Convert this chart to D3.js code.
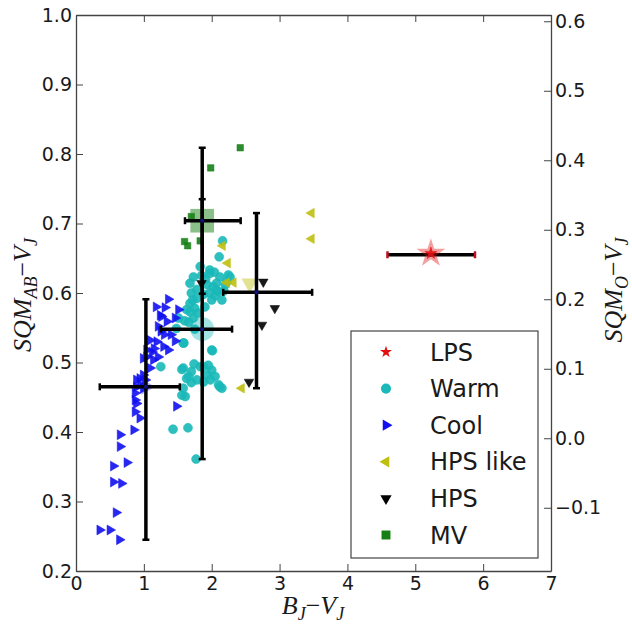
<!DOCTYPE html>
<html>
<head>
<meta charset="utf-8">
<script src="https://cdn.jsdelivr.net/npm/d3@7"></script>
<style>
  body { margin: 0; background: #fff; }
  svg text { font-family: "DejaVu Sans", sans-serif; }
</style>
</head>
<body>
<svg id="chart" width="632" height="631"></svg>
<script>
// points, [B_J - V_J, SQM_AB - V_J]
const lpsPts = [[5.23, 0.657]];

const warmPts = [
  [2.16, 0.675], [2.11, 0.652], [1.73, 0.623], [1.97, 0.628], [2.12, 0.623],
  [2.245, 0.626], [2.02, 0.609], [2.10, 0.602], [1.68, 0.614], [1.70, 0.600],
  [1.78, 0.592], [1.93, 0.612], [1.97, 0.600], [2.07, 0.614], [2.00, 0.590],
  [1.68, 0.585], [1.75, 0.578], [1.68, 0.573], [1.80, 0.571], [1.73, 0.564],
  [1.90, 0.580], [1.63, 0.576], [1.51, 0.564], [1.48, 0.549], [1.58, 0.528],
  [2.00, 0.518], [1.83, 0.638], [1.97, 0.633], [2.27, 0.623], [2.15, 0.590],
  [2.07, 0.604], [1.85, 0.625], [2.20, 0.612], [1.78, 0.605], [1.60, 0.560],
  [2.04, 0.630], [1.91, 0.620], [2.18, 0.603], [1.72, 0.590], [1.88, 0.598],
  [2.23, 0.617], [2.05, 0.596], [1.66, 0.558], [1.75, 0.548],
  [1.25, 0.494], [1.58, 0.492], [1.88, 0.494], [2.00, 0.489], [1.56, 0.490],
  [1.70, 0.487], [1.83, 0.494], [1.95, 0.496], [1.63, 0.477], [1.78, 0.475],
  [1.93, 0.482], [2.05, 0.480], [2.10, 0.468], [1.58, 0.463], [1.61, 0.451],
  [1.88, 0.472], [2.15, 0.463], [1.70, 0.471], [2.12, 0.465], [1.56, 0.453],
  [1.66, 0.480], [1.98, 0.475], [1.74, 0.498],
  [1.43, 0.404], [1.65, 0.406], [1.77, 0.361], [2.01, 0.517], [1.59, 0.528]
];

const coolPts = [
  [1.18, 0.580], [1.36, 0.591], [1.24, 0.568], [1.21, 0.552], [1.34, 0.559],
  [1.46, 0.564], [1.51, 0.576], [1.31, 0.579], [1.26, 0.566], [1.09, 0.532],
  [1.19, 0.530], [1.29, 0.523], [1.36, 0.518], [1.46, 0.531], [1.25, 0.545],
  [1.30, 0.540], [1.15, 0.520], [1.40, 0.540], [0.99, 0.506], [1.14, 0.504],
  [1.21, 0.508], [1.04, 0.518], [1.04, 0.508], [1.09, 0.492], [1.12, 0.515],
  [1.02, 0.475], [0.94, 0.477], [0.89, 0.465], [0.99, 0.463], [0.87, 0.456],
  [0.99, 0.482], [0.89, 0.475], [0.95, 0.468], [1.48, 0.437], [0.89, 0.441],
  [0.87, 0.429], [0.94, 0.420], [0.85, 0.403], [0.87, 0.446], [0.65, 0.396],
  [0.65, 0.379], [0.55, 0.351], [0.75, 0.356], [0.55, 0.328], [0.67, 0.326],
  [0.59, 0.284], [0.35, 0.259], [0.50, 0.259], [0.64, 0.245]
];

const hpsLikePts = [
  [3.47, 0.715], [3.47, 0.678], [2.16, 0.668], [2.235, 0.643],
  [2.32, 0.615], [2.22, 0.615], [2.44, 0.463]
];

const hpsPts = [[2.76, 0.616], [2.93, 0.578], [2.74, 0.554], [2.55, 0.472], [1.85, 0.614]];

const mvPts = [[2.42, 0.809], [1.985, 0.780], [1.70, 0.710], [1.60, 0.674], [1.645, 0.668], [1.83, 0.675]];

// class means and error bar ends: [x, y, xlo, xhi, ylo, yhi]
const meanBars = [
  [1.03, 0.465, 0.35, 1.53, 0.245, 0.591],
  [1.86, 0.548, 1.25, 2.30, 0.361, 0.735],
  [1.86, 0.704, 1.606, 2.427, 0.599, 0.809],
  [2.66, 0.601, 2.17, 3.48, 0.463, 0.715],
  [5.23, 0.655, 4.59, 5.88, null, null]
];
const hpsLikeMean = [2.56, 0.614];

const legendLabels = ['LPS', 'Warm', 'Cool', 'HPS like', 'HPS', 'MV'];

const xTicks = [0, 1, 2, 3, 4, 5, 6, 7];
const yTicks = [0.2, 0.3, 0.4, 0.5, 0.6, 0.7, 0.8, 0.9, 1.0];
const yRightTicks = [-0.1, 0.0, 0.1, 0.2, 0.3, 0.4, 0.5, 0.6];
const rightOffset = 0.391; // SQM_O = SQM_AB - offset

const margin = { top: 15, right: 81, bottom: 60, left: 76 };
const width = 632 - margin.left - margin.right;
const height = 631 - margin.top - margin.bottom;

const x = d3.scaleLinear().domain([0, 7]).range([0, width]);
const y = d3.scaleLinear().domain([0.2, 1.0]).range([height, 0]);
const yR = d3.scaleLinear().domain([0.2 - rightOffset, 1.0 - rightOffset]).range([height, 0]);

const svg = d3.select('#chart');
const g = svg.append('g').attr('transform', `translate(${margin.left},${margin.top})`);

const sym = (type, size) => d3.symbol().type(type).size(size)();

const colors = { lps: '#e01010', warm: '#1ab8b8', cool: '#1010f0', hpsLike: '#bfbf10', hps: '#000', mv: '#168016' };

function drawPoints(pts, path, rot, color) {
  g.append('g').selectAll('path')
    .data(pts)
    .enter()
    .append('path')
    .attr('d', path)
    .attr('transform', (d) => `translate(${x(d[0])},${y(d[1])}) rotate(${rot})`)
    .attr('fill', color)
    .attr('stroke', color)
    .attr('stroke-width', 0.5)
    .attr('fill-opacity', 0.9);
}

drawPoints(warmPts, sym(d3.symbolCircle, 64), 0, colors.warm);
drawPoints(coolPts, sym(d3.symbolTriangle, 42), 90, colors.cool);
drawPoints(hpsLikePts, sym(d3.symbolTriangle, 40), -90, colors.hpsLike);
drawPoints(hpsPts, sym(d3.symbolTriangle, 40), 180, colors.hps);
drawPoints(mvPts, sym(d3.symbolSquare, 42), 0, colors.mv);

// big translucent mean markers
const bigMarks = g.append('g');
const addBig = (d, path, rot, color, op) => bigMarks.append('path')
  .attr('d', path)
  .attr('transform', `translate(${x(d[0])},${y(d[1])}) rotate(${rot})`)
  .attr('fill', color)
  .attr('fill-opacity', op);
addBig(meanBars[0], sym(d3.symbolTriangle, 110), 90, colors.cool, 0.35);
addBig(meanBars[1], sym(d3.symbolCircle, 440), 0, colors.warm, 0.4);
addBig(meanBars[2], sym(d3.symbolSquare, 560), 0, colors.mv, 0.5);
addBig(hpsLikeMean, sym(d3.symbolTriangle, 120), 180, colors.hpsLike, 0.45);

// error bars
const bars = g.append('g').attr('stroke', '#000').attr('stroke-width', 3.5);
const cap = 3.5;
meanBars.forEach((d, i) => {
  const capColor = i === 4 ? '#c01020' : '#000';
  bars.append('line')
    .attr('x1', x(d[2])).attr('x2', x(d[3]))
    .attr('y1', y(d[1])).attr('y2', y(d[1]));
  [d[2], d[3]].forEach((v) => {
    bars.append('line')
      .attr('x1', x(v)).attr('x2', x(v))
      .attr('y1', y(d[1]) - cap).attr('y2', y(d[1]) + cap)
      .attr('stroke', capColor).attr('stroke-width', 2.5);
  });
  if (d[4] !== null) {
    bars.append('line')
      .attr('x1', x(d[0])).attr('x2', x(d[0]))
      .attr('y1', y(d[4])).attr('y2', y(d[5]));
    [d[4], d[5]].forEach((v) => {
      bars.append('line')
        .attr('x1', x(d[0]) - cap).attr('x2', x(d[0]) + cap)
        .attr('y1', y(v)).attr('y2', y(v))
        .attr('stroke-width', 2.5);
    });
  }
  bars.append('circle')
    .attr('cx', x(d[0])).attr('cy', y(d[1])).attr('r', 2)
    .attr('stroke', 'none').attr('fill', '#101080');
});

// LPS star sits above its bar
g.append('path')
  .attr('d', sym(d3.symbolStar, 260))
  .attr('transform', `translate(${x(lpsPts[0][0])},${y(lpsPts[0][1])})`)
  .attr('fill', colors.lps).attr('fill-opacity', 0.4);
drawPoints(lpsPts, sym(d3.symbolStar, 45), 0, colors.lps);

// axes
const tickStyle = (sel) => {
  sel.selectAll('.domain').attr('stroke', '#444').attr('stroke-width', 1.3);
  sel.selectAll('.tick line').attr('stroke', '#444').attr('stroke-width', 1);
  sel.selectAll('.tick text').attr('font-size', 19).attr('fill', '#1a1a1a')
    .style('font-family', '"DejaVu Sans", sans-serif');
};

g.append('g').attr('transform', `translate(0,${height})`)
  .call(d3.axisBottom(x).tickValues(xTicks).tickFormat(d3.format('d'))
    .tickSizeInner(-7).tickSizeOuter(0).tickPadding(6))
  .call(tickStyle);

g.append('g')
  .call(d3.axisTop(x).tickValues(xTicks).tickFormat('')
    .tickSizeInner(-7).tickSizeOuter(0))
  .call(tickStyle);

g.append('g')
  .call(d3.axisLeft(y).tickValues(yTicks).tickFormat(d3.format('.1f'))
    .tickSizeInner(-7).tickSizeOuter(0).tickPadding(4))
  .call(tickStyle);

g.append('g').attr('transform', `translate(${width},0)`)
  .call(d3.axisRight(yR).tickValues(yRightTicks).tickFormat(d3.format('.1f'))
    .tickSizeInner(-7).tickSizeOuter(0).tickPadding(4))
  .call(tickStyle);

// axis titles with subscripts
function mathLabel(sel, parts) {
  const t = sel.append('text')
    .attr('text-anchor', 'middle')
    .style('font-family', '"Liberation Serif", "DejaVu Serif", serif')
    .attr('font-size', 26)
    .attr('fill', '#1a1a1a');
  let shift = 0;
  parts.forEach(([s, kind]) => {
    const sp = t.append('tspan').text(s);
    if (kind === 'sub') {
      sp.attr('font-size', 18).attr('dy', 6 - shift).attr('font-style', 'italic');
      shift = 6;
    } else {
      sp.attr('dy', -shift);
      shift = 0;
      if (kind === 'it') sp.attr('font-style', 'italic');
    }
  });
  return t;
}

mathLabel(svg.append('g').attr('transform', 'translate(31,295) rotate(-90)'),
  [['SQM', 'it'], ['AB', 'sub'], ['\u2212', 'op'], ['V', 'it'], ['J', 'sub']]);

mathLabel(svg.append('g').attr('transform', 'translate(622,290) rotate(-90)'),
  [['SQM', 'it'], ['O', 'sub'], ['\u2212', 'op'], ['V', 'it'], ['J', 'sub']]);

mathLabel(svg.append('g').attr('transform', 'translate(313,614)'),
  [['B', 'it'], ['J', 'sub'], ['\u2212', 'op'], ['V', 'it'], ['J', 'sub']]);

// legend
const legend = svg.append('g');
legend.append('rect')
  .attr('x', 351).attr('y', 331).attr('width', 187).attr('height', 227)
  .attr('fill', '#fff').attr('stroke', '#444').attr('stroke-width', 1.2);

const legendMarks = [
  [sym(d3.symbolStar, 45), 0, colors.lps],
  [sym(d3.symbolCircle, 80), 0, colors.warm],
  [sym(d3.symbolTriangle, 55), 90, colors.cool],
  [sym(d3.symbolTriangle, 55), -90, colors.hpsLike],
  [sym(d3.symbolTriangle, 55), 180, colors.hps],
  [sym(d3.symbolSquare, 80), 0, colors.mv]
];
const legendY = d3.scaleLinear().domain([0, 5]).range([352, 535]);

legendLabels.forEach((label, i) => {
  const [path, rot, color] = legendMarks[i];
  legend.append('path')
    .attr('d', path)
    .attr('transform', `translate(386,${legendY(i)}) rotate(${rot})`)
    .attr('fill', color);
  legend.append('text')
    .attr('x', 430).attr('y', legendY(i))
    .attr('dy', '0.36em')
    .attr('font-size', 24)
    .attr('fill', '#1a1a1a')
    .text(label);
});
</script>
</body>
</html>
